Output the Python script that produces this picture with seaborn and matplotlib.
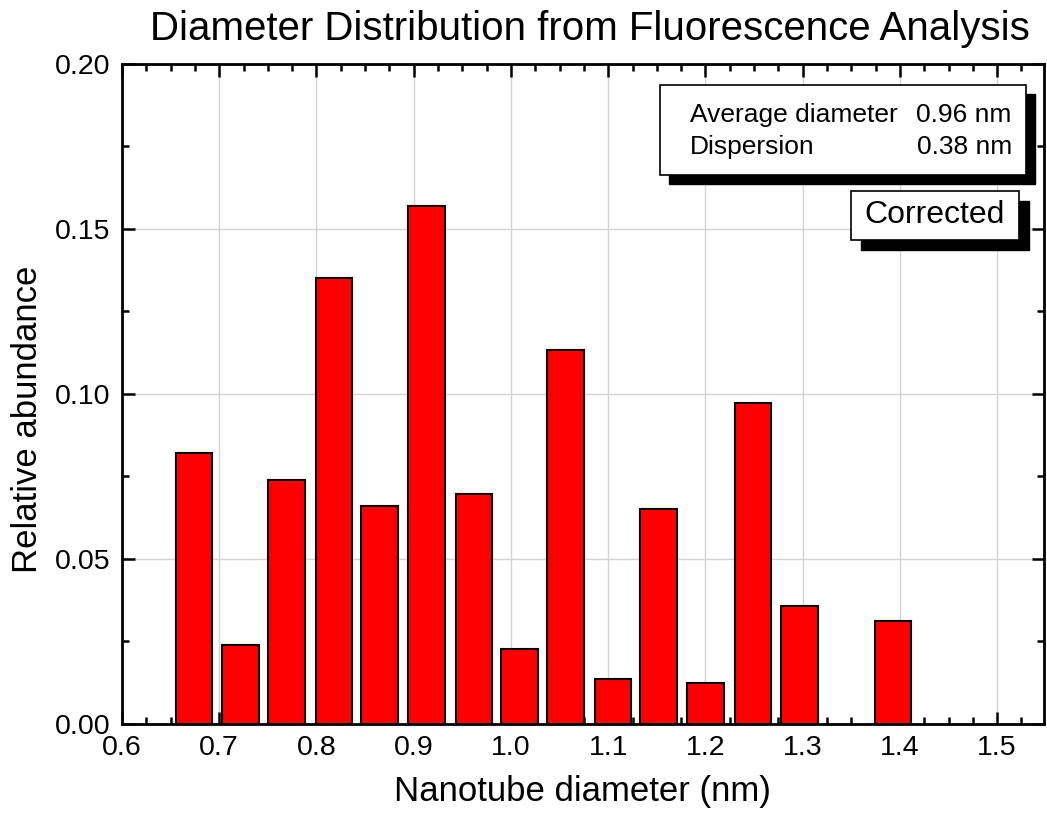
import numpy as np
import pandas as pd
import matplotlib
matplotlib.use("Agg")
import matplotlib.pyplot as plt
import seaborn as sns
from matplotlib.patches import Rectangle
from matplotlib.ticker import MultipleLocator

# Data
diameters = [0.674, 0.722, 0.769, 0.818, 0.865, 0.913, 0.962, 1.009,
             1.056, 1.105, 1.152, 1.200, 1.249, 1.297, 1.393]
abundance = [0.0821, 0.0239, 0.0739, 0.1352, 0.0661, 0.1570, 0.0697, 0.0227,
             0.1133, 0.0136, 0.0652, 0.0124, 0.0973, 0.0358, 0.0312]
title = "Diameter Distribution from Fluorescence Analysis"
xlabel = "Nanotube diameter (nm)"
ylabel = "Relative abundance"
info_labels = ["Average diameter", "Dispersion"]
info_values = ["0.96 nm", "0.38 nm"]
tag = "Corrected"

sns.set_theme(style="white")
plt.rcParams['font.family'] = ['Liberation Sans', 'DejaVu Sans']
for k in ['text.color', 'axes.labelcolor', 'xtick.color', 'ytick.color']:
    plt.rcParams[k] = 'black'

df = pd.DataFrame({"d": diameters, "a": abundance})

fig = plt.figure(figsize=(10.47, 8.15), dpi=100)
ax = fig.add_axes([0.1165, 0.1117, 0.8805, 0.8098])

sns.barplot(data=df, x="d", y="a", native_scale=True, width=0.8,
            color="#ff0000", saturation=1, edgecolor="black", linewidth=1.5,
            ax=ax, zorder=3)

ax.set_xlim(0.6, 1.548)
ax.set_ylim(0, 0.20)
ax.xaxis.set_major_locator(MultipleLocator(0.1))
ax.xaxis.set_minor_locator(MultipleLocator(0.025))
ax.yaxis.set_major_locator(MultipleLocator(0.05))
ax.yaxis.set_minor_locator(MultipleLocator(0.025))
ax.xaxis.set_major_formatter(matplotlib.ticker.FormatStrFormatter('%.1f'))
ax.yaxis.set_major_formatter(matplotlib.ticker.FormatStrFormatter('%.2f'))

ax.grid(True, which='major', color='#d3d3d3', linewidth=1.0, zorder=0)
ax.set_axisbelow(True)
ax.tick_params(which='both', direction='in', top=True, right=True,
               bottom=True, left=True, colors='black', width=1.8)
ax.tick_params(which='major', length=9, labelsize=20.5, pad=8)
ax.tick_params(which='minor', length=5)
for s in ax.spines.values():
    s.set_color('black')
    s.set_linewidth(2)
    s.set_visible(True)

ax.set_xlabel(xlabel, fontsize=25, labelpad=10, color='black')
ax.set_ylabel(ylabel, fontsize=25, labelpad=8, color='black')
ax.yaxis.label.set_y(0.462)
ax.set_title(title, fontsize=29, pad=17, x=0.5076, color='black')

# Info box with shadow (axes coords)
def px_to_ax(x, y):
    return ((x - 122) / 922.0, (724 - y) / 660.0)

def shadow_box(x0, y0, x1, y1, off):
    ax0, ay1 = px_to_ax(x0, y0)
    ax1, ay0 = px_to_ax(x1, y1)
    sx0, sy1 = px_to_ax(x0 + off, y0 + off)
    ax.add_patch(Rectangle((sx0, sy1 - (ay1 - ay0)), ax1 - ax0, ay1 - ay0,
                           transform=ax.transAxes, facecolor='black',
                           edgecolor='black', zorder=5, clip_on=False))
    ax.add_patch(Rectangle((ax0, ay0), ax1 - ax0, ay1 - ay0,
                           transform=ax.transAxes, facecolor='white',
                           edgecolor='black', linewidth=1.2, zorder=6,
                           clip_on=False))

shadow_box(660, 85, 1026, 175, 9)
for i, (lab, val) in enumerate(zip(info_labels, info_values)):
    yy = [115, 147][i]
    lx, ly = px_to_ax(690, yy)
    rx, _ = px_to_ax(1012, yy)
    ax.text(lx, ly, lab, transform=ax.transAxes, fontsize=19,
            ha='left', va='center', zorder=7, color='black')
    ax.text(rx, ly, val, transform=ax.transAxes, fontsize=19,
            ha='right', va='center', zorder=7, color='black')

shadow_box(851, 191, 1019, 240, 10)
cx, cy = px_to_ax(935, 215)
ax.text(cx, cy, tag, transform=ax.transAxes, fontsize=23,
        ha='center', va='center', zorder=7, color='black')

fig.savefig("out.png", dpi=100)
